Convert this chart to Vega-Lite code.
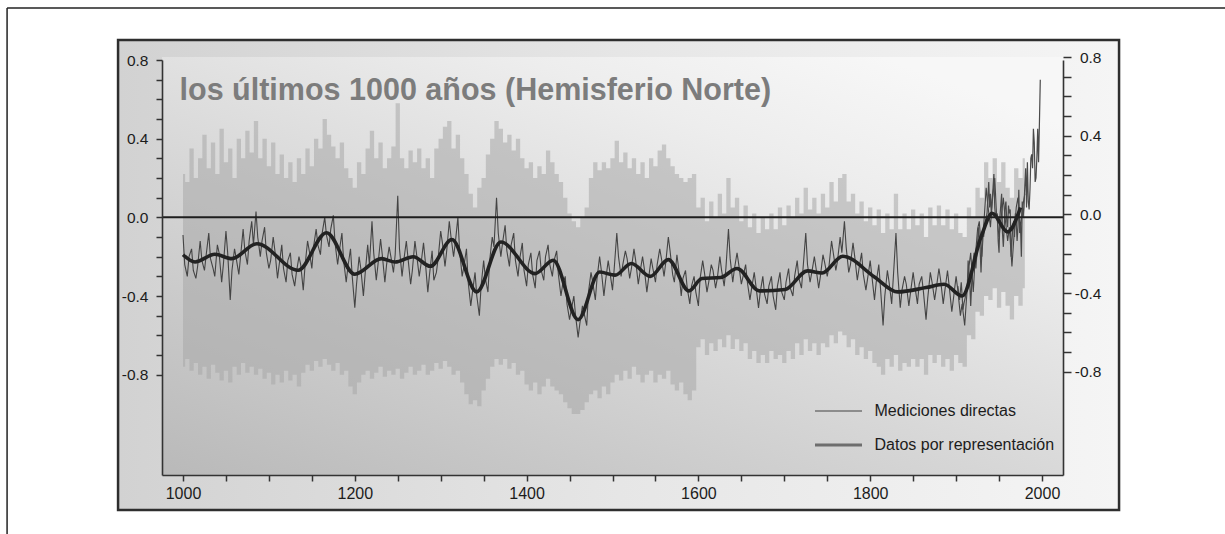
{
  "$schema": "https://vega.github.io/schema/vega-lite/v6.json",
  "width": 901,
  "height": 415,
  "autosize": {"type": "none"},
  "padding": {"left": 162, "top": 60, "right": 162, "bottom": 59},
  "background": "#ffffff",
  "config": {"view": {"stroke": null}, "font": "Liberation Sans"},
  "datasets": {
    "proxy": [
      {"year":1000,"anomaly":-0.09,"upper":0.22,"lower":-0.76},{"year":1005,"anomaly":-0.30,"upper":0.18,"lower":-0.72},{"year":1010,"anomaly":-0.16,"upper":0.35,"lower":-0.78},{"year":1015,"anomaly":-0.31,"upper":0.20,"lower":-0.74},{"year":1020,"anomaly":-0.12,"upper":0.30,"lower":-0.80},{"year":1025,"anomaly":-0.27,"upper":0.42,"lower":-0.76},{"year":1030,"anomaly":-0.08,"upper":0.25,"lower":-0.82},{"year":1035,"anomaly":-0.26,"upper":0.38,"lower":-0.75},{"year":1040,"anomaly":-0.14,"upper":0.22,"lower":-0.79},{"year":1045,"anomaly":-0.33,"upper":0.45,"lower":-0.83},
      {"year":1050,"anomaly":-0.07,"upper":0.28,"lower":-0.78},{"year":1055,"anomaly":-0.42,"upper":0.35,"lower":-0.84},{"year":1060,"anomaly":-0.16,"upper":0.20,"lower":-0.76},{"year":1065,"anomaly":-0.29,"upper":0.40,"lower":-0.80},{"year":1070,"anomaly":-0.06,"upper":0.30,"lower":-0.74},{"year":1075,"anomaly":-0.24,"upper":0.44,"lower":-0.79},{"year":1080,"anomaly":-0.02,"upper":0.33,"lower":-0.76},{"year":1085,"anomaly":0.03,"upper":0.49,"lower":-0.80},{"year":1090,"anomaly":-0.20,"upper":0.30,"lower":-0.77},{"year":1095,"anomaly":-0.05,"upper":0.40,"lower":-0.82},
      {"year":1100,"anomaly":-0.26,"upper":0.26,"lower":-0.79},{"year":1105,"anomaly":-0.10,"upper":0.38,"lower":-0.85},{"year":1110,"anomaly":-0.31,"upper":0.22,"lower":-0.80},{"year":1115,"anomaly":-0.14,"upper":0.32,"lower":-0.84},{"year":1120,"anomaly":-0.33,"upper":0.20,"lower":-0.78},{"year":1125,"anomaly":-0.18,"upper":0.28,"lower":-0.83},{"year":1130,"anomaly":-0.35,"upper":0.18,"lower":-0.80},{"year":1135,"anomaly":-0.20,"upper":0.30,"lower":-0.86},{"year":1140,"anomaly":-0.37,"upper":0.22,"lower":-0.79},{"year":1145,"anomaly":-0.12,"upper":0.35,"lower":-0.75},
      {"year":1150,"anomaly":-0.26,"upper":0.26,"lower":-0.78},{"year":1155,"anomaly":-0.06,"upper":0.40,"lower":-0.73},{"year":1160,"anomaly":-0.19,"upper":0.35,"lower":-0.76},{"year":1165,"anomaly":0.00,"upper":0.50,"lower":-0.72},{"year":1170,"anomaly":-0.15,"upper":0.42,"lower":-0.75},{"year":1175,"anomaly":0.01,"upper":0.36,"lower":-0.78},{"year":1180,"anomaly":-0.24,"upper":0.30,"lower":-0.74},{"year":1185,"anomaly":-0.08,"upper":0.38,"lower":-0.80},{"year":1190,"anomaly":-0.33,"upper":0.25,"lower":-0.78},{"year":1195,"anomaly":-0.16,"upper":0.20,"lower":-0.86},
      {"year":1200,"anomaly":-0.46,"upper":0.15,"lower":-0.90},{"year":1205,"anomaly":-0.20,"upper":0.28,"lower":-0.84},{"year":1210,"anomaly":-0.40,"upper":0.22,"lower":-0.80},{"year":1215,"anomaly":-0.14,"upper":0.35,"lower":-0.78},{"year":1220,"anomaly":-0.02,"upper":0.44,"lower":-0.82},{"year":1225,"anomaly":-0.32,"upper":0.30,"lower":-0.79},{"year":1230,"anomaly":-0.11,"upper":0.38,"lower":-0.76},{"year":1235,"anomaly":-0.33,"upper":0.25,"lower":-0.81},{"year":1240,"anomaly":-0.15,"upper":0.30,"lower":-0.78},{"year":1245,"anomaly":-0.28,"upper":0.36,"lower":-0.80},
      {"year":1250,"anomaly":0.11,"upper":0.58,"lower":-0.77},{"year":1255,"anomaly":-0.30,"upper":0.30,"lower":-0.82},{"year":1260,"anomaly":-0.12,"upper":0.25,"lower":-0.79},{"year":1265,"anomaly":-0.34,"upper":0.34,"lower":-0.76},{"year":1270,"anomaly":-0.12,"upper":0.28,"lower":-0.80},{"year":1275,"anomaly":-0.30,"upper":0.35,"lower":-0.78},{"year":1280,"anomaly":-0.13,"upper":0.25,"lower":-0.75},{"year":1285,"anomaly":-0.38,"upper":0.30,"lower":-0.80},{"year":1290,"anomaly":-0.17,"upper":0.20,"lower":-0.78},{"year":1295,"anomaly":-0.28,"upper":0.35,"lower":-0.74},
      {"year":1300,"anomaly":-0.07,"upper":0.40,"lower":-0.77},{"year":1305,"anomaly":-0.25,"upper":0.46,"lower":-0.73},{"year":1310,"anomaly":-0.02,"upper":0.49,"lower":-0.76},{"year":1315,"anomaly":-0.20,"upper":0.35,"lower":-0.80},{"year":1320,"anomaly":0.00,"upper":0.42,"lower":-0.78},{"year":1325,"anomaly":-0.30,"upper":0.30,"lower":-0.84},{"year":1330,"anomaly":-0.16,"upper":0.22,"lower":-0.90},{"year":1335,"anomaly":-0.45,"upper":0.12,"lower":-0.95},{"year":1340,"anomaly":-0.28,"upper":0.05,"lower":-0.93},{"year":1345,"anomaly":-0.50,"upper":0.15,"lower":-0.96},
      {"year":1350,"anomaly":-0.22,"upper":0.20,"lower":-0.88},{"year":1355,"anomaly":-0.38,"upper":0.32,"lower":-0.82},{"year":1360,"anomaly":-0.10,"upper":0.40,"lower":-0.76},{"year":1365,"anomaly":0.10,"upper":0.49,"lower":-0.72},{"year":1370,"anomaly":-0.20,"upper":0.45,"lower":-0.75},{"year":1375,"anomaly":-0.04,"upper":0.38,"lower":-0.72},{"year":1380,"anomaly":-0.25,"upper":0.42,"lower":-0.77},{"year":1385,"anomaly":-0.08,"upper":0.34,"lower":-0.74},{"year":1390,"anomaly":-0.30,"upper":0.40,"lower":-0.80},{"year":1395,"anomaly":-0.13,"upper":0.30,"lower":-0.78},
      {"year":1400,"anomaly":-0.35,"upper":0.25,"lower":-0.85},{"year":1405,"anomaly":-0.18,"upper":0.28,"lower":-0.88},{"year":1410,"anomaly":-0.36,"upper":0.20,"lower":-0.84},{"year":1415,"anomaly":-0.17,"upper":0.26,"lower":-0.90},{"year":1420,"anomaly":-0.32,"upper":0.22,"lower":-0.86},{"year":1425,"anomaly":-0.14,"upper":0.34,"lower":-0.82},{"year":1430,"anomaly":-0.30,"upper":0.28,"lower":-0.86},{"year":1435,"anomaly":-0.17,"upper":0.22,"lower":-0.88},{"year":1440,"anomaly":-0.40,"upper":0.18,"lower":-0.90},{"year":1445,"anomaly":-0.30,"upper":0.10,"lower":-0.94},
      {"year":1450,"anomaly":-0.52,"upper":0.02,"lower":-0.97},{"year":1455,"anomaly":-0.40,"upper":-0.02,"lower":-1.00},{"year":1460,"anomaly":-0.61,"upper":-0.05,"lower":-1.00},{"year":1465,"anomaly":-0.45,"upper":0.00,"lower":-0.98},{"year":1470,"anomaly":-0.55,"upper":0.05,"lower":-0.94},{"year":1475,"anomaly":-0.28,"upper":0.20,"lower":-0.90},{"year":1480,"anomaly":-0.42,"upper":0.28,"lower":-0.88},{"year":1485,"anomaly":-0.20,"upper":0.24,"lower":-0.92},{"year":1490,"anomaly":-0.40,"upper":0.28,"lower":-0.86},{"year":1495,"anomaly":-0.22,"upper":0.25,"lower":-0.90},
      {"year":1500,"anomaly":-0.37,"upper":0.30,"lower":-0.84},{"year":1505,"anomaly":-0.08,"upper":0.39,"lower":-0.80},{"year":1510,"anomaly":-0.30,"upper":0.28,"lower":-0.83},{"year":1515,"anomaly":-0.17,"upper":0.33,"lower":-0.78},{"year":1520,"anomaly":-0.31,"upper":0.25,"lower":-0.82},{"year":1525,"anomaly":-0.16,"upper":0.30,"lower":-0.76},{"year":1530,"anomaly":-0.34,"upper":0.22,"lower":-0.80},{"year":1535,"anomaly":-0.20,"upper":0.28,"lower":-0.84},{"year":1540,"anomaly":-0.38,"upper":0.20,"lower":-0.80},{"year":1545,"anomaly":-0.21,"upper":0.30,"lower":-0.78},
      {"year":1550,"anomaly":-0.33,"upper":0.26,"lower":-0.84},{"year":1555,"anomaly":-0.16,"upper":0.34,"lower":-0.80},{"year":1560,"anomaly":-0.30,"upper":0.37,"lower":-0.82},{"year":1565,"anomaly":-0.10,"upper":0.30,"lower":-0.78},{"year":1570,"anomaly":-0.29,"upper":0.26,"lower":-0.85},{"year":1575,"anomaly":-0.19,"upper":0.22,"lower":-0.88},{"year":1580,"anomaly":-0.40,"upper":0.20,"lower":-0.84},{"year":1585,"anomaly":-0.27,"upper":0.18,"lower":-0.90},{"year":1590,"anomaly":-0.44,"upper":0.20,"lower":-0.93},{"year":1595,"anomaly":-0.30,"upper":0.22,"lower":-0.88},
      {"year":1600,"anomaly":-0.45,"upper":0.05,"lower":-0.66},{"year":1605,"anomaly":-0.22,"upper":0.10,"lower":-0.62},{"year":1610,"anomaly":-0.38,"upper":-0.02,"lower":-0.70},{"year":1615,"anomaly":-0.24,"upper":0.08,"lower":-0.64},{"year":1620,"anomaly":-0.36,"upper":0.00,"lower":-0.68},{"year":1625,"anomaly":-0.20,"upper":0.12,"lower":-0.62},{"year":1630,"anomaly":-0.35,"upper":0.02,"lower":-0.66},{"year":1635,"anomaly":-0.06,"upper":0.20,"lower":-0.60},{"year":1640,"anomaly":-0.33,"upper":0.05,"lower":-0.67},{"year":1645,"anomaly":-0.18,"upper":0.10,"lower":-0.62},
      {"year":1650,"anomaly":-0.34,"upper":-0.02,"lower":-0.68},{"year":1655,"anomaly":-0.24,"upper":0.06,"lower":-0.64},{"year":1660,"anomaly":-0.42,"upper":-0.05,"lower":-0.72},{"year":1665,"anomaly":-0.28,"upper":0.02,"lower":-0.68},{"year":1670,"anomaly":-0.46,"upper":-0.08,"lower":-0.74},{"year":1675,"anomaly":-0.30,"upper":0.00,"lower":-0.70},{"year":1680,"anomaly":-0.44,"upper":-0.06,"lower":-0.74},{"year":1685,"anomaly":-0.30,"upper":0.02,"lower":-0.68},{"year":1690,"anomaly":-0.47,"upper":-0.06,"lower":-0.72},{"year":1695,"anomaly":-0.28,"upper":0.05,"lower":-0.70},
      {"year":1700,"anomaly":-0.42,"upper":-0.04,"lower":-0.74},{"year":1705,"anomaly":-0.26,"upper":0.06,"lower":-0.68},{"year":1710,"anomaly":-0.40,"upper":0.00,"lower":-0.72},{"year":1715,"anomaly":-0.22,"upper":0.10,"lower":-0.64},{"year":1720,"anomaly":-0.36,"upper":0.02,"lower":-0.70},{"year":1725,"anomaly":-0.08,"upper":0.15,"lower":-0.62},{"year":1730,"anomaly":-0.33,"upper":0.04,"lower":-0.68},{"year":1735,"anomaly":-0.20,"upper":0.10,"lower":-0.64},{"year":1740,"anomaly":-0.36,"upper":0.02,"lower":-0.70},{"year":1745,"anomaly":-0.19,"upper":0.12,"lower":-0.64},
      {"year":1750,"anomaly":-0.30,"upper":0.05,"lower":-0.66},{"year":1755,"anomaly":-0.12,"upper":0.18,"lower":-0.60},{"year":1760,"anomaly":-0.27,"upper":0.08,"lower":-0.64},{"year":1765,"anomaly":-0.10,"upper":0.20,"lower":-0.58},{"year":1770,"anomaly":-0.02,"upper":0.22,"lower":-0.60},{"year":1775,"anomaly":-0.28,"upper":0.08,"lower":-0.66},{"year":1780,"anomaly":-0.13,"upper":0.12,"lower":-0.62},{"year":1785,"anomaly":-0.32,"upper":0.02,"lower":-0.70},{"year":1790,"anomaly":-0.18,"upper":0.08,"lower":-0.66},{"year":1795,"anomaly":-0.37,"upper":-0.02,"lower":-0.72},
      {"year":1800,"anomaly":-0.22,"upper":0.05,"lower":-0.68},{"year":1805,"anomaly":-0.42,"upper":-0.04,"lower":-0.74},{"year":1810,"anomaly":-0.24,"upper":0.04,"lower":-0.76},{"year":1815,"anomaly":-0.55,"upper":-0.08,"lower":-0.80},{"year":1820,"anomaly":-0.27,"upper":0.02,"lower":-0.72},{"year":1825,"anomaly":-0.44,"upper":-0.06,"lower":-0.76},{"year":1830,"anomaly":-0.08,"upper":0.12,"lower":-0.70},{"year":1835,"anomaly":-0.46,"upper":-0.06,"lower":-0.78},{"year":1840,"anomaly":-0.30,"upper":0.02,"lower":-0.74},{"year":1845,"anomaly":-0.45,"upper":-0.06,"lower":-0.76},
      {"year":1850,"anomaly":-0.28,"upper":0.04,"lower":-0.72},{"year":1855,"anomaly":-0.44,"upper":-0.04,"lower":-0.76},{"year":1860,"anomaly":-0.30,"upper":0.02,"lower":-0.72},{"year":1865,"anomaly":-0.52,"upper":-0.10,"lower":-0.80},{"year":1870,"anomaly":-0.28,"upper":0.05,"lower":-0.70},{"year":1875,"anomaly":-0.42,"upper":-0.04,"lower":-0.74},{"year":1880,"anomaly":-0.26,"upper":0.06,"lower":-0.70},{"year":1885,"anomaly":-0.44,"upper":-0.04,"lower":-0.76},{"year":1890,"anomaly":-0.27,"upper":0.04,"lower":-0.72},{"year":1895,"anomaly":-0.48,"upper":-0.06,"lower":-0.78},
      {"year":1900,"anomaly":-0.30,"upper":0.02,"lower":-0.70},{"year":1905,"anomaly":-0.50,"upper":-0.08,"lower":-0.74},{"year":1910,"anomaly":-0.55,"upper":-0.10,"lower":-0.76},{"year":1915,"anomaly":-0.25,"upper":0.05,"lower":-0.60},{"year":1920,"anomaly":-0.38,"upper":0.00,"lower":-0.62},{"year":1925,"anomaly":-0.06,"upper":0.15,"lower":-0.48},{"year":1930,"anomaly":-0.20,"upper":0.10,"lower":-0.50},{"year":1935,"anomaly":0.15,"upper":0.28,"lower":-0.40},{"year":1940,"anomaly":-0.05,"upper":0.20,"lower":-0.42},{"year":1945,"anomaly":0.20,"upper":0.30,"lower":-0.36},
      {"year":1950,"anomaly":-0.10,"upper":0.18,"lower":-0.46},{"year":1955,"anomaly":0.10,"upper":0.28,"lower":-0.38},{"year":1960,"anomaly":-0.12,"upper":0.15,"lower":-0.45},{"year":1965,"anomaly":-0.25,"upper":0.10,"lower":-0.52},{"year":1970,"anomaly":0.05,"upper":0.25,"lower":-0.40},{"year":1975,"anomaly":-0.06,"upper":0.20,"lower":-0.45},{"year":1980,"anomaly":0.12,"upper":0.30,"lower":-0.36},
      {"year":1002,"anomaly":-0.24},{"year":1007,"anomaly":-0.20},{"year":1012,"anomaly":-0.27},{"year":1017,"anomaly":-0.25},{"year":1022,"anomaly":-0.22},{"year":1027,"anomaly":-0.19},{"year":1032,"anomaly":-0.21},{"year":1037,"anomaly":-0.30},{"year":1042,"anomaly":-0.18},{"year":1047,"anomaly":-0.24},
      {"year":1052,"anomaly":-0.18},{"year":1057,"anomaly":-0.27},{"year":1062,"anomaly":-0.21},{"year":1067,"anomaly":-0.20},{"year":1072,"anomaly":-0.17},{"year":1077,"anomaly":-0.12},{"year":1082,"anomaly":-0.14},{"year":1087,"anomaly":-0.10},{"year":1092,"anomaly":-0.12},{"year":1097,"anomaly":-0.18},
      {"year":1102,"anomaly":-0.22},{"year":1107,"anomaly":-0.17},{"year":1112,"anomaly":-0.24},{"year":1117,"anomaly":-0.26},{"year":1122,"anomaly":-0.22},{"year":1127,"anomaly":-0.29},{"year":1132,"anomaly":-0.28},{"year":1137,"anomaly":-0.24},{"year":1142,"anomaly":-0.25},{"year":1147,"anomaly":-0.17},
      {"year":1152,"anomaly":-0.15},{"year":1157,"anomaly":-0.14},{"year":1162,"anomaly":-0.08},{"year":1167,"anomaly":-0.09},{"year":1172,"anomaly":-0.06},{"year":1177,"anomaly":-0.13},{"year":1182,"anomaly":-0.17},{"year":1187,"anomaly":-0.22},{"year":1192,"anomaly":-0.25},{"year":1197,"anomaly":-0.30},
      {"year":1202,"anomaly":-0.34},{"year":1207,"anomaly":-0.26},{"year":1212,"anomaly":-0.29},{"year":1217,"anomaly":-0.24},{"year":1222,"anomaly":-0.18},{"year":1227,"anomaly":-0.24},{"year":1232,"anomaly":-0.19},{"year":1237,"anomaly":-0.24},{"year":1242,"anomaly":-0.20},{"year":1247,"anomaly":-0.19},
      {"year":1252,"anomaly":-0.16},{"year":1257,"anomaly":-0.22},{"year":1262,"anomaly":-0.21},{"year":1267,"anomaly":-0.27},{"year":1272,"anomaly":-0.19},{"year":1277,"anomaly":-0.24},{"year":1282,"anomaly":-0.22},{"year":1287,"anomaly":-0.29},{"year":1292,"anomaly":-0.32},{"year":1297,"anomaly":-0.21},
      {"year":1302,"anomaly":-0.13},{"year":1307,"anomaly":-0.17},{"year":1312,"anomaly":-0.10},{"year":1317,"anomaly":-0.13},{"year":1322,"anomaly":-0.17},{"year":1327,"anomaly":-0.25},{"year":1332,"anomaly":-0.33},{"year":1337,"anomaly":-0.38},{"year":1342,"anomaly":-0.40},{"year":1347,"anomaly":-0.35},
      {"year":1352,"anomaly":-0.31},{"year":1357,"anomaly":-0.22},{"year":1362,"anomaly":-0.15},{"year":1367,"anomaly":-0.08},{"year":1372,"anomaly":-0.13},{"year":1377,"anomaly":-0.17},{"year":1382,"anomaly":-0.14},{"year":1387,"anomaly":-0.22},{"year":1392,"anomaly":-0.21},{"year":1397,"anomaly":-0.27},
      {"year":1402,"anomaly":-0.24},{"year":1407,"anomaly":-0.29},{"year":1412,"anomaly":-0.22},{"year":1417,"anomaly":-0.27},{"year":1422,"anomaly":-0.20},{"year":1427,"anomaly":-0.24},{"year":1432,"anomaly":-0.22},{"year":1437,"anomaly":-0.29},{"year":1442,"anomaly":-0.34},{"year":1447,"anomaly":-0.44},
      {"year":1452,"anomaly":-0.47},{"year":1457,"anomaly":-0.50},{"year":1462,"anomaly":-0.54},{"year":1467,"anomaly":-0.49},{"year":1472,"anomaly":-0.38},{"year":1477,"anomaly":-0.33},{"year":1482,"anomaly":-0.31},{"year":1487,"anomaly":-0.27},{"year":1492,"anomaly":-0.32},{"year":1497,"anomaly":-0.28},
      {"year":1502,"anomaly":-0.26},{"year":1507,"anomaly":-0.20},{"year":1512,"anomaly":-0.24},{"year":1517,"anomaly":-0.21},{"year":1522,"anomaly":-0.26},{"year":1527,"anomaly":-0.22},{"year":1532,"anomaly":-0.28},{"year":1537,"anomaly":-0.26},{"year":1542,"anomaly":-0.31},{"year":1547,"anomaly":-0.26},
      {"year":1552,"anomaly":-0.24},{"year":1557,"anomaly":-0.21},{"year":1562,"anomaly":-0.23},{"year":1567,"anomaly":-0.17},{"year":1572,"anomaly":-0.33},{"year":1577,"anomaly":-0.26},{"year":1582,"anomaly":-0.31},{"year":1587,"anomaly":-0.36},{"year":1592,"anomaly":-0.35},{"year":1597,"anomaly":-0.38},
      {"year":1602,"anomaly":-0.31},{"year":1607,"anomaly":-0.28},{"year":1612,"anomaly":-0.33},{"year":1617,"anomaly":-0.27},{"year":1622,"anomaly":-0.31},{"year":1627,"anomaly":-0.27},{"year":1632,"anomaly":-0.26},{"year":1637,"anomaly":-0.21},{"year":1642,"anomaly":-0.26},{"year":1647,"anomaly":-0.24},
      {"year":1652,"anomaly":-0.30},{"year":1657,"anomaly":-0.33},{"year":1662,"anomaly":-0.36},{"year":1667,"anomaly":-0.35},{"year":1672,"anomaly":-0.38},{"year":1677,"anomaly":-0.39},{"year":1682,"anomaly":-0.35},{"year":1687,"anomaly":-0.40},{"year":1692,"anomaly":-0.35},{"year":1697,"anomaly":-0.38},
      {"year":1702,"anomaly":-0.33},{"year":1707,"anomaly":-0.36},{"year":1712,"anomaly":-0.30},{"year":1717,"anomaly":-0.31},{"year":1722,"anomaly":-0.25},{"year":1727,"anomaly":-0.24},{"year":1732,"anomaly":-0.28},{"year":1737,"anomaly":-0.26},{"year":1742,"anomaly":-0.30},{"year":1747,"anomaly":-0.23},
      {"year":1752,"anomaly":-0.25},{"year":1757,"anomaly":-0.18},{"year":1762,"anomaly":-0.22},{"year":1767,"anomaly":-0.18},{"year":1772,"anomaly":-0.15},{"year":1777,"anomaly":-0.24},{"year":1782,"anomaly":-0.20},{"year":1787,"anomaly":-0.26},{"year":1792,"anomaly":-0.29},{"year":1797,"anomaly":-0.31},
      {"year":1802,"anomaly":-0.30},{"year":1807,"anomaly":-0.33},{"year":1812,"anomaly":-0.36},{"year":1817,"anomaly":-0.40},{"year":1822,"anomaly":-0.33},{"year":1827,"anomaly":-0.30},{"year":1832,"anomaly":-0.28},{"year":1837,"anomaly":-0.37},{"year":1842,"anomaly":-0.34},{"year":1847,"anomaly":-0.38},
      {"year":1852,"anomaly":-0.35},{"year":1857,"anomaly":-0.34},{"year":1862,"anomaly":-0.38},{"year":1867,"anomaly":-0.41},{"year":1872,"anomaly":-0.33},{"year":1877,"anomaly":-0.36},{"year":1882,"anomaly":-0.32},{"year":1887,"anomaly":-0.37},{"year":1892,"anomaly":-0.35},{"year":1897,"anomaly":-0.41},
      {"year":1902,"anomaly":-0.37},{"year":1907,"anomaly":-0.44},{"year":1912,"anomaly":-0.42},{"year":1917,"anomaly":-0.18},{"year":1922,"anomaly":-0.22},{"year":1927,"anomaly":-0.02},{"year":1932,"anomaly":-0.05},{"year":1937,"anomaly":0.06},{"year":1942,"anomaly":0.08},{"year":1947,"anomaly":0.02},
      {"year":1952,"anomaly":-0.02},{"year":1957,"anomaly":0.00},{"year":1962,"anomaly":-0.05},{"year":1967,"anomaly":-0.12},{"year":1972,"anomaly":0.10},{"year":1977,"anomaly":0.04}
    ],
    "instrumental": [
      {"year":1902,"anomaly":-0.35},{"year":1904,"anomaly":-0.42},{"year":1906,"anomaly":-0.33},{"year":1908,"anomaly":-0.47},{"year":1909,"anomaly":-0.44},{"year":1911,"anomaly":-0.40},{"year":1913,"anomaly":-0.36},{"year":1914,"anomaly":-0.22},{"year":1916,"anomaly":-0.34},{"year":1917,"anomaly":-0.45},{"year":1919,"anomaly":-0.25},{"year":1921,"anomaly":-0.18},{"year":1923,"anomaly":-0.26},{"year":1925,"anomaly":-0.14},{"year":1926,"anomaly":-0.05},{"year":1928,"anomaly":-0.16},{"year":1929,"anomaly":-0.28},{"year":1931,"anomaly":-0.06},{"year":1932,"anomaly":-0.10},{"year":1934,"anomaly":-0.02},{"year":1936,"anomaly":0.02},{"year":1937,"anomaly":0.10},{"year":1938,"anomaly":0.18},{"year":1939,"anomaly":0.05},{"year":1940,"anomaly":0.12},{"year":1941,"anomaly":0.02},{"year":1943,"anomaly":0.15},{"year":1944,"anomaly":0.22},{"year":1945,"anomaly":0.05},{"year":1946,"anomaly":0.00},{"year":1948,"anomaly":0.02},{"year":1949,"anomaly":-0.12},{"year":1950,"anomaly":-0.18},{"year":1951,"anomaly":0.00},{"year":1953,"anomaly":0.12},{"year":1954,"anomaly":-0.08},{"year":1955,"anomaly":-0.15},{"year":1957,"anomaly":0.05},{"year":1958,"anomaly":0.08},{"year":1959,"anomaly":-0.02},{"year":1960,"anomaly":-0.05},{"year":1961,"anomaly":0.06},{"year":1962,"anomaly":0.02},{"year":1963,"anomaly":0.04},{"year":1964,"anomaly":-0.20},{"year":1965,"anomaly":-0.12},{"year":1966,"anomaly":-0.05},{"year":1967,"anomaly":-0.02},{"year":1968,"anomaly":-0.10},{"year":1969,"anomaly":0.02},{"year":1970,"anomaly":-0.02},{"year":1971,"anomaly":-0.12},{"year":1972,"anomaly":-0.05},{"year":1973,"anomaly":0.14},{"year":1974,"anomaly":-0.08},{"year":1975,"anomaly":-0.04},{"year":1976,"anomaly":-0.20},{"year":1977,"anomaly":0.08},{"year":1978,"anomaly":0.00},{"year":1979,"anomaly":0.05},{"year":1980,"anomaly":0.16},{"year":1981,"anomaly":0.25},{"year":1982,"anomaly":0.05},{"year":1983,"anomaly":0.28},{"year":1984,"anomaly":0.08},{"year":1985,"anomaly":0.04},{"year":1986,"anomaly":0.14},{"year":1987,"anomaly":0.30},{"year":1988,"anomaly":0.32},{"year":1989,"anomaly":0.25},{"year":1990,"anomaly":0.45},{"year":1991,"anomaly":0.38},{"year":1992,"anomaly":0.18},{"year":1993,"anomaly":0.20},{"year":1994,"anomaly":0.30},{"year":1995,"anomaly":0.45},{"year":1996,"anomaly":0.28},{"year":1997,"anomaly":0.48},{"year":1998,"anomaly":0.70}
    ],
    "smooth": [
      {"year":1000,"anomaly":-0.19},{"year":1014,"anomaly":-0.227},{"year":1037,"anomaly":-0.188},{"year":1057,"anomaly":-0.21},{"year":1086,"anomaly":-0.134},{"year":1134,"anomaly":-0.269},{"year":1167,"anomaly":-0.078},{"year":1200,"anomaly":-0.289},{"year":1231,"anomaly":-0.21},{"year":1247,"anomaly":-0.227},{"year":1268,"anomaly":-0.2},{"year":1288,"anomaly":-0.249},{"year":1313,"anomaly":-0.113},{"year":1342,"anomaly":-0.379},{"year":1370,"anomaly":-0.125},{"year":1410,"anomaly":-0.286},{"year":1431,"anomaly":-0.218},{"year":1460,"anomaly":-0.52},{"year":1485,"anomaly":-0.278},{"year":1503,"anomaly":-0.294},{"year":1522,"anomaly":-0.235},{"year":1544,"anomaly":-0.3},{"year":1565,"anomaly":-0.215},{"year":1589,"anomaly":-0.374},{"year":1604,"anomaly":-0.311},{"year":1626,"anomaly":-0.306},{"year":1645,"anomaly":-0.26},{"year":1671,"anomaly":-0.374},{"year":1701,"anomaly":-0.367},{"year":1727,"anomaly":-0.272},{"year":1744,"anomaly":-0.283},{"year":1768,"anomaly":-0.198},{"year":1805,"anomaly":-0.303},{"year":1832,"anomaly":-0.379},{"year":1865,"anomaly":-0.357},{"year":1886,"anomaly":-0.34},{"year":1907,"anomaly":-0.4},{"year":1929,"anomaly":-0.1},{"year":1942,"anomaly":0.02},{"year":1960,"anomaly":-0.074},{"year":1975,"anomaly":0.05}
    ],
    "anchor": [{}]
  },
  "resolve": {"axis": {"x": "independent", "y": "independent"}},
  "layer": [
    {
      "data": {"name": "anchor"},
      "mark": {"type": "rect", "stroke": "#2e2e2e", "strokeWidth": 2.5,
        "fill": {"gradient": "linear", "x1": 0, "y1": 0.5, "x2": 1, "y2": 0.5,
          "stops": [{"offset": 0, "color": "#d2d2d2"}, {"offset": 0.5, "color": "#e6e6e6"}, {"offset": 1, "color": "#f5f5f5"}]}},
      "encoding": {
        "x": {"datum": 924.4, "type": "quantitative", "scale": {"domain": [975.55, 2024.45], "nice": false, "zero": false}, "axis": null},
        "x2": {"datum": 2089.7},
        "y": {"datum": 0.902, "type": "quantitative", "scale": {"domain": [-1.31, 0.8], "nice": false, "zero": false}, "axis": null},
        "y2": {"datum": -1.488}
      }
    },
    {
      "data": {"name": "anchor"},
      "mark": {"type": "rule", "color": "#222222", "strokeWidth": 1.5},
      "encoding": {
        "x": {"datum": 795.2, "type": "quantitative", "scale": {"domain": [975.55, 2024.45], "nice": false, "zero": false}, "axis": null},
        "x2": {"datum": 2215},
        "y": {"datum": 1.064, "type": "quantitative", "scale": {"domain": [-1.31, 0.8], "nice": false, "zero": false}, "axis": null}
      }
    },
    {
      "data": {"name": "anchor"},
      "mark": {"type": "rule", "color": "#222222", "strokeWidth": 1.5},
      "encoding": {
        "x": {"datum": 795.2, "type": "quantitative", "scale": {"domain": [975.55, 2024.45], "nice": false, "zero": false}, "axis": null},
        "y": {"datum": 1.064, "type": "quantitative", "scale": {"domain": [-1.31, 0.8], "nice": false, "zero": false}, "axis": null},
        "y2": {"datum": -1.62}
      }
    },
    {
      "data": {"name": "anchor"},
      "mark": {"type": "rect",
        "fill": {"gradient": "linear", "x1": 0, "y1": 1, "x2": 0.8, "y2": 0,
          "stops": [{"offset": 0, "color": "#b9b9b9"}, {"offset": 0.45, "color": "#d6d6d6"}, {"offset": 0.8, "color": "#ededed"}, {"offset": 1, "color": "#f7f7f7"}]}},
      "encoding": {
        "x": {"datum": 975.55, "type": "quantitative", "scale": {"domain": [975.55, 2024.45], "nice": false, "zero": false},
          "axis": {"orient": "bottom", "values": [1000,1050,1100,1150,1200,1250,1300,1350,1400,1450,1500,1550,1600,1650,1700,1750,1800,1850,1900,1950,2000],
            "format": "d", "labelExpr": "datum.value % 200 === 0 ? datum.label : ''", "title": null, "grid": false,
            "tickSize": 6, "tickWidth": 1.5, "tickColor": "#333333", "domainColor": "#333333", "domainWidth": 1.6,
            "labelFont": "Liberation Sans", "labelFontSize": 16, "labelColor": "#1c1c1c", "labelPadding": 4,
            "labelFlush": false, "labelOverlap": false, "zindex": 1}},
        "x2": {"datum": 2024.45},
        "y": {"datum": 0.815, "type": "quantitative", "scale": {"domain": [-1.31, 0.8], "nice": false, "zero": false},
          "axis": {"orient": "left", "values": [-0.8,-0.7,-0.6,-0.5,-0.4,-0.3,-0.2,-0.1,0,0.1,0.2,0.3,0.4,0.5,0.6,0.7,0.8],
            "labelExpr": "round(datum.value*10) % 4 === 0 ? (datum.value < 0 ? '-' : '') + format(abs(datum.value), '.1f') : ''",
            "title": null, "grid": false, "tickSize": 6, "tickWidth": 1.5, "tickColor": "#333333", "domainColor": "#333333", "domainWidth": 1.6,
            "labelFont": "Liberation Sans", "labelFontSize": 15.5, "labelColor": "#1c1c1c", "labelPadding": 8,
            "labelFlush": false, "labelOverlap": false, "zindex": 1}},
        "y2": {"datum": -1.31}
      }
    },
    {
      "data": {"name": "proxy"},
      "transform": [{"filter": "isValid(datum.upper)"}],
      "mark": {"type": "area", "interpolate": "step", "color": "#a8a8a8", "opacity": 0.55},
      "encoding": {
        "x": {"field": "year", "type": "quantitative", "scale": {"domain": [975.55, 2024.45], "nice": false, "zero": false}, "axis": null},
        "y": {"field": "upper", "type": "quantitative", "scale": {"domain": [-1.31, 0.8], "nice": false, "zero": false}, "axis": null},
        "y2": {"field": "lower"}
      }
    },
    {
      "data": {"name": "proxy"},
      "mark": {"type": "line", "strokeWidth": 1.1, "interpolate": "linear"},
      "encoding": {
        "x": {"field": "year", "type": "quantitative", "scale": {"domain": [975.55, 2024.45], "nice": false, "zero": false}, "axis": null},
        "y": {"field": "anomaly", "type": "quantitative", "scale": {"domain": [-1.31, 0.8], "nice": false, "zero": false}, "axis": null},
        "color": {"datum": "Datos por representación", "type": "nominal",
          "scale": {"domain": ["Mediciones directas", "Datos por representación"], "range": ["#4a4a4a", "#444444"]},
          "legend": {"title": null, "orient": "none", "legendX": 653, "legendY": 343, "symbolType": "stroke", "symbolSize": 2209,
            "symbolStrokeWidth": 1.3, "symbolOpacity": 0.7, "symbolOffset": 15.5, "labelFont": "Liberation Sans", "labelFontSize": 16, "labelColor": "#1c1c1c",
            "labelOffset": 28, "labelLimit": 0, "rowPadding": 18, "padding": 0,
            "encode": {"symbols": {"update": {"strokeWidth": {"signal": "datum.value === 'Datos por representación' ? 3 : 1.3"}}}}}}
      }
    },
    {
      "data": {"name": "instrumental"},
      "mark": {"type": "line", "strokeWidth": 1.2},
      "encoding": {
        "x": {"field": "year", "type": "quantitative", "scale": {"domain": [975.55, 2024.45], "nice": false, "zero": false}, "axis": null},
        "y": {"field": "anomaly", "type": "quantitative", "scale": {"domain": [-1.31, 0.8], "nice": false, "zero": false}, "axis": null},
        "color": {"datum": "Mediciones directas", "type": "nominal",
          "scale": {"domain": ["Mediciones directas", "Datos por representación"], "range": ["#4a4a4a", "#444444"]},
          "legend": {"title": null, "orient": "none", "legendX": 653, "legendY": 343, "symbolType": "stroke", "symbolSize": 2209,
            "symbolStrokeWidth": 1.3, "symbolOpacity": 0.7, "symbolOffset": 15.5, "labelFont": "Liberation Sans", "labelFontSize": 16, "labelColor": "#1c1c1c",
            "labelOffset": 28, "labelLimit": 0, "rowPadding": 18, "padding": 0,
            "encode": {"symbols": {"update": {"strokeWidth": {"signal": "datum.value === 'Datos por representación' ? 3 : 1.3"}}}}}}
      }
    },
    {
      "data": {"name": "anchor"},
      "mark": {"type": "rule", "color": "#1e1e1e", "strokeWidth": 2},
      "encoding": {
        "x": {"datum": 975.55, "type": "quantitative", "scale": {"domain": [975.55, 2024.45], "nice": false, "zero": false}, "axis": null},
        "x2": {"datum": 2024.45},
        "y": {"datum": 0, "type": "quantitative", "scale": {"domain": [-1.31, 0.8], "nice": false, "zero": false},
          "axis": {"orient": "right", "values": [-0.8,-0.7,-0.6,-0.5,-0.4,-0.3,-0.2,-0.1,0,0.1,0.2,0.3,0.4,0.5,0.6,0.7,0.8],
            "labelExpr": "round(datum.value*10) % 4 === 0 ? (datum.value < 0 ? '-' : '') + format(abs(datum.value), '.1f') : ''",
            "title": null, "grid": false, "tickSize": 8, "tickWidth": 1.5, "tickColor": "#333333", "domainColor": "#333333", "domainWidth": 1.6,
            "tickOffset": -3, "labelAlign": "right", "labelPadding": 30,
            "labelFont": "Liberation Sans", "labelFontSize": 15.5, "labelColor": "#1c1c1c",
            "labelFlush": false, "labelOverlap": false, "zindex": 1}}
      }
    },
    {
      "data": {"name": "smooth"},
      "mark": {"type": "line", "color": "#222222", "strokeWidth": 3.6, "interpolate": "monotone"},
      "encoding": {
        "x": {"field": "year", "type": "quantitative", "scale": {"domain": [975.55, 2024.45], "nice": false, "zero": false}, "axis": null},
        "y": {"field": "anomaly", "type": "quantitative", "scale": {"domain": [-1.31, 0.8], "nice": false, "zero": false}, "axis": null}
      }
    },
    {
      "data": {"name": "anchor"},
      "mark": {"type": "text", "text": "los últimos 1000 años (Hemisferio Norte)", "align": "left", "baseline": "alphabetic",
        "font": "Liberation Sans", "fontSize": 30.5, "fontWeight": "bold", "color": "#7c7c7c"},
      "encoding": {
        "x": {"datum": 996, "type": "quantitative", "scale": {"domain": [975.55, 2024.45], "nice": false, "zero": false}, "axis": null},
        "y": {"datum": 0.599, "type": "quantitative", "scale": {"domain": [-1.31, 0.8], "nice": false, "zero": false}, "axis": null}
      }
    }
  ]
}
